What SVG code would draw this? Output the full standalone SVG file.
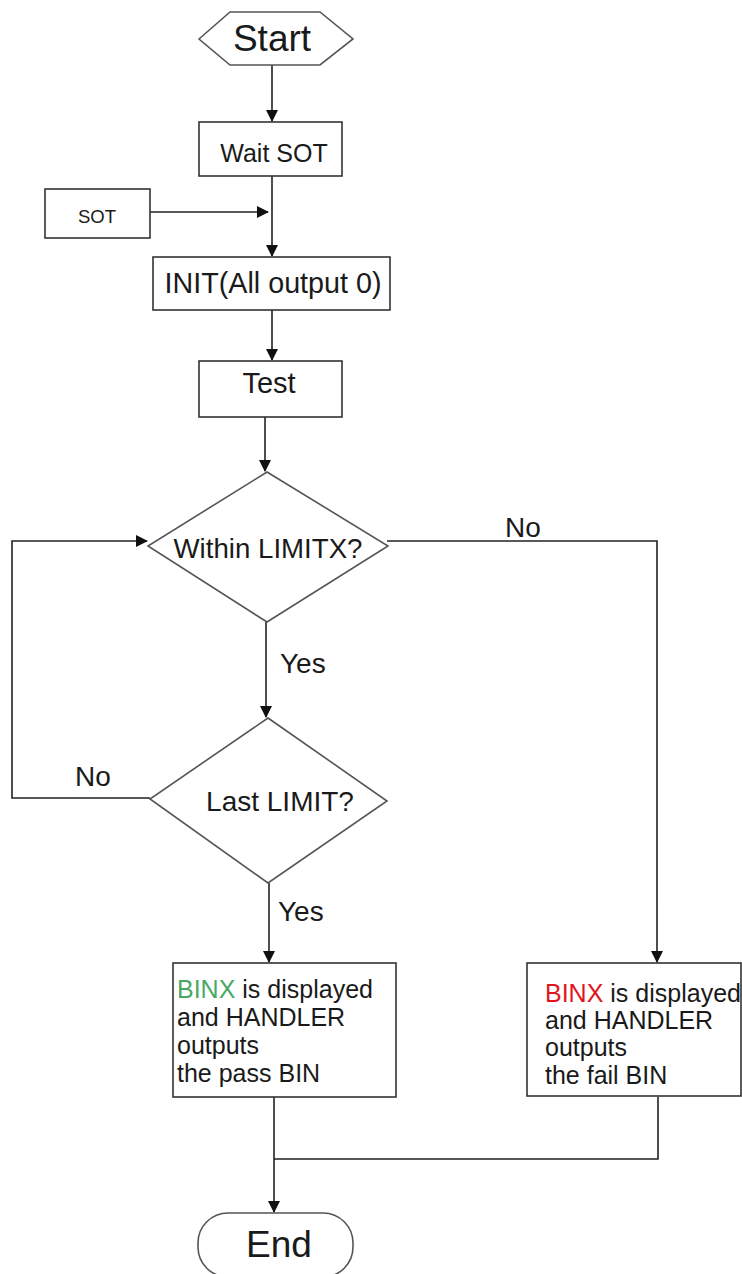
<svg xmlns="http://www.w3.org/2000/svg" width="742" height="1274" viewBox="0 0 742 1274">
<defs>
<marker id="arr" markerWidth="12" markerHeight="12" refX="11" refY="6" orient="auto" markerUnits="userSpaceOnUse">
<path d="M0,0 L12,6 L0,12 Z" fill="#111"/>
</marker>
<style>
.shape{fill:#fff;stroke:#333;stroke-width:1.6}
.dia{fill:#fff;stroke:#555;stroke-width:1.6}
.t{font-family:"Liberation Sans",Arial,sans-serif;fill:#1a1a1a}
.c{stroke:#222;stroke-width:1.6;fill:none}
.ca{stroke:#222;stroke-width:1.6;fill:none;marker-end:url(#arr)}
</style>
</defs>
<rect width="742" height="1274" fill="#fff"/>
<g id="connectors">
<line class="ca" x1="272" y1="65" x2="272" y2="121"/>
<line class="ca" x1="272" y1="176" x2="272" y2="256"/>
<line class="ca" x1="150" y1="212" x2="268" y2="212"/>
<line class="ca" x1="272" y1="310" x2="272" y2="360"/>
<line class="ca" x1="265" y1="417" x2="265" y2="471"/>
<polyline class="c" points="387,541 657,541 657,900"/>
<line class="ca" x1="657" y1="900" x2="657" y2="962"/>
<polyline class="ca" points="150,798 12,798 12,541 147,541"/>
<line class="ca" x1="266" y1="622" x2="266" y2="717"/>
<line class="ca" x1="269" y1="883" x2="269" y2="962"/>
<line class="c" x1="274" y1="1097" x2="274" y2="1159"/>
<polyline class="c" points="658,1097 658,1159 274,1159"/>
<line class="ca" x1="274" y1="1159" x2="274" y2="1212"/>
<text class="t" x="505" y="537" font-size="28">No</text>
<text class="t" x="280" y="673" font-size="28">Yes</text>
<text class="t" x="75" y="786" font-size="28">No</text>
<text class="t" x="278" y="921" font-size="28">Yes</text>
</g>
<g id="start">
<polygon class="dia" points="199,39 230,12 320,12 353,39 320,65 230,65"/>
<text class="t" x="272" y="51" font-size="37" text-anchor="middle">Start</text>
</g>
<g id="wait-sot">
<rect class="shape" x="199" y="122" width="143" height="54"/>
<text class="t" x="274" y="162" font-size="25" text-anchor="middle">Wait SOT</text>
</g>
<g id="sot">
<rect class="shape" x="45" y="189" width="105" height="49"/>
<text class="t" x="97" y="223" font-size="18.5" text-anchor="middle">SOT</text>
</g>
<g id="init">
<rect class="shape" x="153" y="257" width="237" height="53"/>
<text class="t" x="273" y="293" font-size="29" text-anchor="middle" textLength="217" lengthAdjust="spacingAndGlyphs">INIT(All output 0)</text>
</g>
<g id="test">
<rect class="shape" x="199" y="361" width="143" height="56"/>
<text class="t" x="269" y="393" font-size="29" text-anchor="middle">Test</text>
</g>
<g id="within-limitx">
<polygon class="dia" points="267,472 388,546 267,622 148,546"/>
<text class="t" x="268" y="558" font-size="28" text-anchor="middle" textLength="189" lengthAdjust="spacingAndGlyphs">Within LIMITX?</text>
</g>
<g id="last-limit">
<polygon class="dia" points="268,718 387,801 268,883 150,799"/>
<text class="t" x="280" y="811" font-size="28" text-anchor="middle">Last LIMIT?</text>
</g>
<g id="pass-bin">
<rect class="shape" x="173" y="963" width="223" height="134"/>
<text class="t" x="177" y="998" font-size="25"><tspan fill="#4aa865">BINX</tspan> is displayed</text>
<text class="t" x="177" y="1026" font-size="25">and HANDLER</text>
<text class="t" x="177" y="1054" font-size="25">outputs</text>
<text class="t" x="177" y="1082" font-size="25">the pass BIN</text>
</g>
<g id="fail-bin">
<rect class="shape" x="527" y="963" width="214" height="133"/>
<text class="t" x="545" y="1002" font-size="25"><tspan fill="#e0161e">BINX</tspan> is displayed</text>
<text class="t" x="545" y="1029" font-size="25">and HANDLER</text>
<text class="t" x="545" y="1056" font-size="25">outputs</text>
<text class="t" x="545" y="1084" font-size="25">the fail BIN</text>
</g>
<g id="end">
<rect class="dia" x="198" y="1213" width="155" height="64" rx="30" ry="30"/>
<text class="t" x="279" y="1257" font-size="37" text-anchor="middle">End</text>
</g>
</svg>
